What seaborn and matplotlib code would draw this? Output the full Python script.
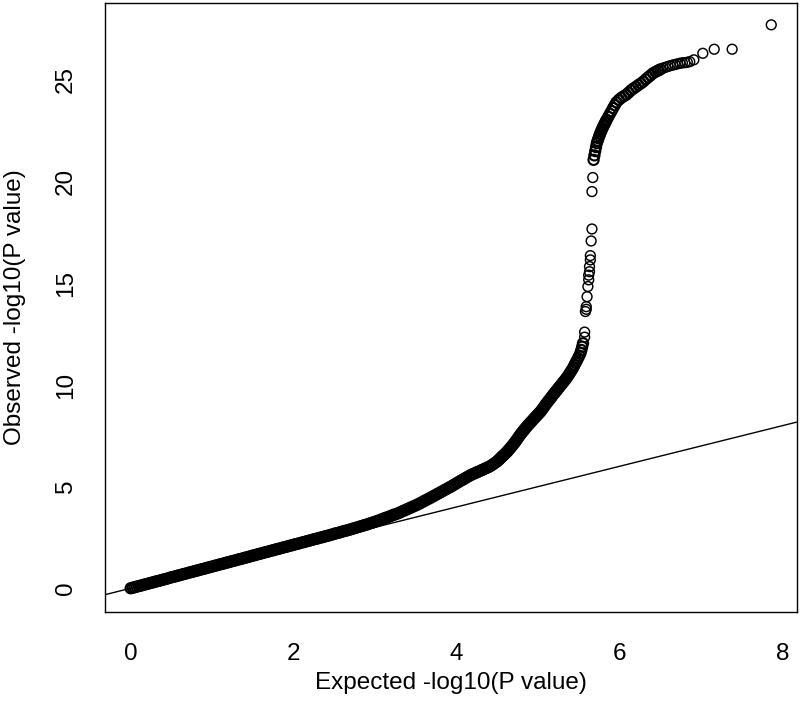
import matplotlib
matplotlib.use("Agg")
import matplotlib.pyplot as plt
import numpy as np
import pandas as pd
import seaborn as sns

# ---- data (expected vs observed -log10 P) ----
exp_a = [0.0, 0.025, 0.05, 0.075, 0.1, 0.125, 0.15, 0.175, 0.2, 0.225,
         0.25, 0.275, 0.3, 0.325, 0.35, 0.375, 0.4, 0.425, 0.45, 0.475,
         0.5, 0.525, 0.55, 0.575, 0.6, 0.625, 0.65, 0.675, 0.7, 0.725,
         0.75, 0.775, 0.8, 0.825, 0.85, 0.875, 0.9, 0.925, 0.95, 0.975,
         1.0, 1.025, 1.05, 1.075, 1.1, 1.125, 1.15, 1.175, 1.2, 1.225,
         1.25, 1.275, 1.3, 1.325, 1.35, 1.375, 1.4, 1.425, 1.45, 1.475,
         1.5, 1.525, 1.55, 1.575, 1.6, 1.625, 1.65, 1.675, 1.7, 1.725,
         1.75, 1.775, 1.8, 1.825, 1.85, 1.875, 1.9, 1.925, 1.95, 1.975,
         2.0, 2.025, 2.05, 2.075, 2.1, 2.125, 2.15, 2.175, 2.2, 2.225,
         2.25, 2.275, 2.3, 2.325, 2.35, 2.375, 2.4, 2.425, 2.45, 2.475,
         2.5]
obs_a = [0.00, 0.03, 0.05, 0.08, 0.11, 0.13, 0.16, 0.19, 0.21, 0.24,
         0.27, 0.29, 0.32, 0.35, 0.37, 0.40, 0.43, 0.45, 0.48, 0.51,
         0.54, 0.56, 0.59, 0.62, 0.64, 0.67, 0.70, 0.72, 0.75, 0.78,
         0.80, 0.83, 0.86, 0.88, 0.91, 0.94, 0.96, 0.99, 1.02, 1.04,
         1.07, 1.10, 1.12, 1.15, 1.18, 1.20, 1.23, 1.26, 1.28, 1.31,
         1.34, 1.36, 1.39, 1.42, 1.44, 1.47, 1.50, 1.52, 1.55, 1.58,
         1.61, 1.63, 1.66, 1.69, 1.71, 1.74, 1.77, 1.79, 1.82, 1.85,
         1.87, 1.90, 1.93, 1.95, 1.98, 2.01, 2.03, 2.06, 2.09, 2.11,
         2.14, 2.17, 2.19, 2.22, 2.25, 2.27, 2.30, 2.33, 2.35, 2.38,
         2.41, 2.43, 2.46, 2.49, 2.51, 2.54, 2.57, 2.59, 2.62, 2.65,
         2.68]

exp_b = [2.525, 2.55, 2.575, 2.6, 2.625, 2.65, 2.675, 2.7, 2.725, 2.75,
         2.775, 2.8, 2.825, 2.85, 2.875, 2.9, 2.925, 2.95, 2.975, 3.0,
         3.025, 3.05]
obs_b = [2.71, 2.73, 2.76, 2.79, 2.82, 2.84, 2.87, 2.90, 2.93, 2.96,
         2.99, 3.02, 3.05, 3.08, 3.11, 3.14, 3.17, 3.21, 3.24, 3.27,
         3.31, 3.34]

exp_c = [3.075, 3.1, 3.125, 3.15, 3.175, 3.2, 3.225, 3.25, 3.275, 3.3,
         3.325, 3.35, 3.375, 3.4, 3.425, 3.45, 3.475, 3.5,
         3.525, 3.55, 3.575, 3.6, 3.625, 3.65, 3.675,
         3.7, 3.725, 3.75, 3.775, 3.8,
         3.825, 3.85, 3.875, 3.9, 3.925,
         3.95, 3.975, 4.0,
         4.025, 4.05, 4.075, 4.1, 4.125,
         4.15, 4.175, 4.2,
         4.225, 4.25, 4.275, 4.3,
         4.325, 4.35, 4.375, 4.4,
         4.425, 4.45, 4.475]
obs_c = [3.38, 3.42, 3.46, 3.49, 3.53, 3.57, 3.61, 3.64, 3.68, 3.72,
         3.77, 3.81, 3.86, 3.90, 3.95, 3.99, 4.04, 4.08,
         4.13, 4.18, 4.23, 4.29, 4.34, 4.39, 4.44,
         4.50, 4.55, 4.61, 4.66, 4.72,
         4.77, 4.83, 4.88, 4.94, 4.99,
         5.05, 5.11, 5.17,
         5.23, 5.29, 5.34, 5.40, 5.46,
         5.52, 5.57, 5.62,
         5.66, 5.71, 5.75, 5.80,
         5.84, 5.89, 5.93, 5.98,
         6.04, 6.11, 6.18]

exp_d = [4.5, 4.515, 4.53, 4.545, 4.56, 4.575, 4.59, 4.605, 4.62, 4.635,
         4.65, 4.665, 4.68, 4.695, 4.71, 4.725, 4.74, 4.755, 4.77, 4.785,
         4.8, 4.815, 4.83, 4.845, 4.86, 4.875, 4.89, 4.905, 4.92, 4.935,
         4.95, 4.965, 4.98, 4.995, 5.01,
         5.025, 5.04, 5.055, 5.07, 5.085, 5.1, 5.115, 5.13, 5.145, 5.16,
         5.175, 5.19,
         5.205, 5.22, 5.235, 5.25, 5.265, 5.28, 5.295, 5.31, 5.325, 5.34,
         5.355,
         5.37, 5.385, 5.4, 5.415, 5.43, 5.445, 5.46, 5.475, 5.49, 5.505,
         5.52, 5.53, 5.54, 5.55]
obs_d = [6.25, 6.31, 6.37, 6.43, 6.49, 6.54, 6.60, 6.66, 6.72, 6.79,
         6.86, 6.93, 7.00, 7.08, 7.15, 7.24, 7.32, 7.41, 7.49, 7.58,
         7.65, 7.73, 7.80, 7.88, 7.95, 8.02, 8.08, 8.15, 8.21, 8.28,
         8.35, 8.41, 8.48, 8.54, 8.61,
         8.67, 8.75, 8.83, 8.91, 9.00, 9.08, 9.16, 9.24, 9.31, 9.39,
         9.47, 9.55,
         9.62, 9.70, 9.77, 9.85, 9.92, 10.00, 10.07, 10.15, 10.22, 10.30,
         10.38,
         10.47, 10.56, 10.66, 10.75, 10.85, 10.97, 11.09, 11.20, 11.32, 11.44,
         11.58, 11.72, 11.88, 12.05]

exp_e = [5.57, 5.57, 5.58, 5.59, 5.59, 5.60, 5.61, 5.62, 5.62, 5.63,
         5.63, 5.64, 5.64, 5.65, 5.66, 5.66, 5.67]
obs_e = [12.35, 12.60, 13.61, 13.72, 13.85, 14.34, 14.84, 15.17, 15.40, 15.57,
         15.82, 16.15, 16.36, 17.08, 17.67, 19.51, 20.20]

exp_f = [5.68, 5.69, 5.70, 5.71, 5.72, 5.73, 5.74, 5.75, 5.76, 5.77,
         5.78, 5.79, 5.80, 5.81, 5.82, 5.83, 5.84,
         5.86, 5.88, 5.90, 5.92, 5.94, 5.96,
         5.99, 6.02, 6.05, 6.08, 6.11, 6.14, 6.17, 6.20, 6.23, 6.26,
         6.29, 6.32, 6.35, 6.38, 6.41, 6.44, 6.47, 6.50]
obs_f = [21.07, 21.29, 21.50, 21.70, 21.89, 22.01, 22.13, 22.25, 22.35, 22.45,
         22.54, 22.63, 22.72, 22.80, 22.88, 22.96, 23.03,
         23.18, 23.33, 23.47, 23.62, 23.76, 23.90,
         24.02, 24.12, 24.20, 24.27, 24.38, 24.49, 24.58, 24.66, 24.75, 24.83,
         24.92, 25.03, 25.13, 25.23, 25.33, 25.40, 25.46, 25.52]

exp_g = [6.53, 6.56, 6.59, 6.62, 6.65, 6.68, 6.71, 6.74, 6.77, 6.80,
         6.83, 6.86, 6.91, 7.02, 7.16, 7.38, 7.86]
obs_g = [25.58, 25.62, 25.66, 25.70, 25.73, 25.76, 25.79, 25.82, 25.84, 25.85,
         25.87, 25.90, 25.99, 26.31, 26.51, 26.51, 27.71]

x_ticks = [0, 2, 4, 6, 8]
y_ticks = [0, 5, 10, 15, 20, 25]
x_label = "Expected -log10(P value)"
y_label = "Observed -log10(P value)"

dense = pd.DataFrame({
    "expected": exp_a + exp_b + exp_c + exp_d + exp_f,
    "observed": obs_a + obs_b + obs_c + obs_d + obs_f,
})
sparse = pd.DataFrame({
    "expected": exp_e + exp_g,
    "observed": obs_e + obs_g,
})

sns.set_theme(style="white")
plt.rcParams["font.family"] = ["Liberation Sans", "DejaVu Sans"]

fig = plt.figure(figsize=(8.0, 7.22), dpi=100)
ax = fig.add_axes([0.13125, 0.1528, 0.8646, 0.8435])

sns.scatterplot(data=dense, x="expected", y="observed", ax=ax, marker="o",
                s=54, facecolor="none", edgecolor="black", linewidth=1.5,
                legend=False, zorder=2)
sns.scatterplot(data=sparse, x="expected", y="observed", ax=ax, marker="o",
                s=50, facecolor="none", edgecolor="black", linewidth=1.05,
                legend=False, zorder=2)
ax.axline((0, 0), slope=1, color="black", lw=1.0, zorder=3)

ax.set_xlim(-0.315, 8.172)
ax.set_ylim(-1.151, 28.80)
ax.set_xticks(x_ticks)
ax.set_yticks(y_ticks)
ax.set_xticklabels([str(t) for t in x_ticks])
ax.set_yticklabels([str(t) for t in y_ticks])

for sp in ax.spines.values():
    sp.set_visible(True)
    sp.set_color("black")
    sp.set_linewidth(1.0)

ax.tick_params(axis="both", direction="out", length=9.4, width=1.0,
               color="black", labelsize=17.5, labelcolor="black")
ax.tick_params(axis="x", pad=13)
ax.tick_params(axis="y", pad=11)
for lab in ax.get_yticklabels():
    lab.set_rotation(90)
    lab.set_va("center")

ax.set_xlabel(x_label, fontsize=17.5, color="black")
ax.set_ylabel(y_label, fontsize=17.5, color="black")
ax.xaxis.label.set_va("center")
ax.yaxis.label.set_va("center")
ax.xaxis.set_label_coords(0.5, -0.117)
ax.yaxis.set_label_coords(-0.130, 0.5)

fig.savefig("out.png", dpi=100)
